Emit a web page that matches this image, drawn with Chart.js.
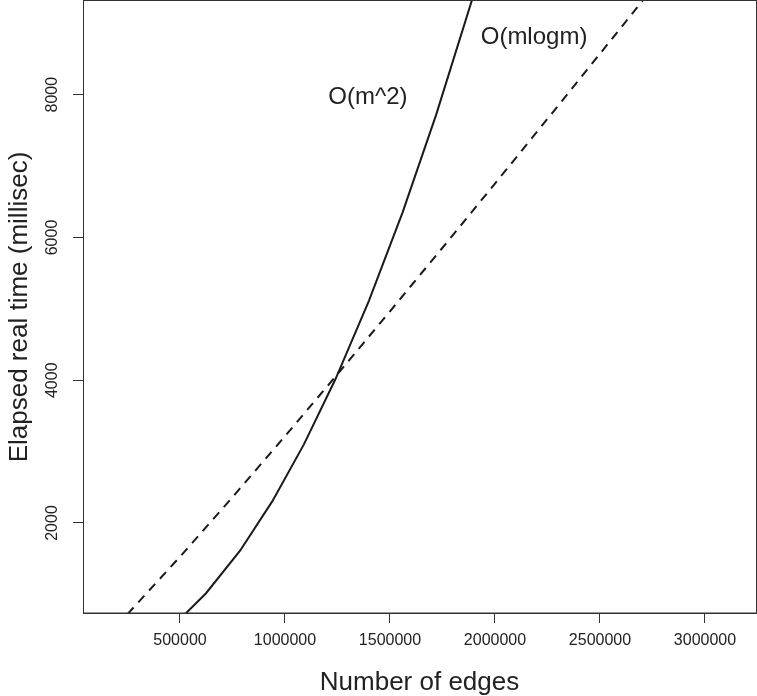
<!DOCTYPE html>
<html>
<head>
<meta charset="utf-8">
<script src="https://cdn.jsdelivr.net/npm/chart.js@4/dist/chart.umd.min.js"></script>
<style>
  html, body { margin: 0; padding: 0; background: #ffffff; }
  #wrap { width: 757px; height: 696px; }
</style>
</head>
<body>
<div id="wrap"><canvas id="c" width="757" height="696"></canvas></div>
<script>
// ---- data ----
const edgesSquare = [500000, 624000, 786000, 940000, 1090000, 1240000, 1400000, 1560000, 1720000, 1890000, 1950000];
const timeSquare  = [652, 1016, 1612, 2306, 3101, 4013, 5116, 6352, 7721, 9323, 9925];

const edgesMlogm = [250000, 500000, 750000, 1000000, 1250000, 1500000, 1750000, 2000000, 2250000, 2500000, 2750000];
const timeMlogm  = [723, 1527, 2362, 3216, 4085, 4966, 5856, 6755, 7662, 8574, 9492];

const xTicks = [500000, 1000000, 1500000, 2000000, 2500000, 3000000];
const yTicks = [2000, 4000, 6000, 8000];

const annotationTexts = ["O(m^2)", "O(mlogm)"];
const annotationX = [1395000, 2186000];
const annotationY = [7968, 8808];

const xTitle = "Number of edges";
const yTitle = "Elapsed real time (millisec)";

// ---- chart ----
const FONT = "'Liberation Sans', Arial, Helvetica, sans-serif";
const INK = '#1a1a1a';
const AXIS = '#333333';

const toPts = (xs, ys) => xs.map((x, i) => ({ x: x, y: ys[i] }));

const framePlugin = {
  id: 'frame',
  afterDraw(chart) {
    const { ctx, chartArea: a, scales } = chart;
    ctx.save();
    // box around the plot
    ctx.strokeStyle = AXIS;
    ctx.lineWidth = 1;
    ctx.strokeRect(Math.round(a.left) + 0.5, Math.round(a.top) - 0.5, Math.round(a.right - a.left), Math.round(a.bottom - a.top) + 0.5);
    // rotated y tick labels
    ctx.fillStyle = '#222';
    ctx.font = '16px ' + FONT;
    ctx.textAlign = 'center';
    ctx.textBaseline = 'middle';
    yTicks.forEach(v => {
      const py = scales.y.getPixelForValue(v);
      ctx.save();
      ctx.translate(53, py);
      ctx.rotate(-Math.PI / 2);
      ctx.fillText(String(v), 0, 0);
      ctx.restore();
    });
    // curve annotations
    ctx.font = '24px ' + FONT;
    ctx.fillStyle = '#222';
    annotationTexts.forEach((t, i) => {
      ctx.fillText(t, scales.x.getPixelForValue(annotationX[i]), scales.y.getPixelForValue(annotationY[i]));
    });
    ctx.restore();
  }
};

new Chart(document.getElementById('c'), {
  type: 'line',
  data: {
    datasets: [
      {
        label: 'O(m^2)',
        data: toPts(edgesSquare, timeSquare),
        borderColor: INK,
        borderWidth: 2,
        pointRadius: 0,
        tension: 0,
        fill: false
      },
      {
        label: 'O(mlogm)',
        data: toPts(edgesMlogm, timeMlogm),
        borderColor: INK,
        borderWidth: 2,
        borderDash: [9, 7],
        pointRadius: 0,
        tension: 0,
        fill: false
      }
    ]
  },
  options: {
    responsive: false,
    animation: false,
    devicePixelRatio: 1,
    layout: { padding: { top: 1, right: 1, left: 0, bottom: 0 } },
    plugins: { legend: { display: false }, tooltip: { enabled: false } },
    scales: {
      x: {
        type: 'linear',
        min: 38100,
        max: 3242900,
        afterBuildTicks: s => { s.ticks = xTicks.map(v => ({ value: v })); },
        afterFit: s => { s.height = 83; },
        grid: { drawOnChartArea: false, drawTicks: true, tickLength: 10, color: AXIS, lineWidth: 1 },
        border: { display: true, color: AXIS, width: 1 },
        ticks: {
          color: '#222',
          font: { family: FONT, size: 16 },
          padding: 8,
          maxRotation: 0,
          minRotation: 0,
          callback: v => String(v)
        },
        title: {
          display: true,
          text: xTitle,
          color: '#222',
          font: { family: FONT, size: 26, lineHeight: 1 },
          padding: { top: 0, bottom: 0 }
        }
      },
      y: {
        type: 'linear',
        min: 739,
        max: 9313,
        afterBuildTicks: s => { s.ticks = yTicks.map(v => ({ value: v })); },
        afterFit: s => { s.width = 83; },
        grid: { drawOnChartArea: false, drawTicks: true, tickLength: 10, color: AXIS, lineWidth: 1 },
        border: { display: true, color: AXIS, width: 1 },
        ticks: { display: false },
        title: {
          display: true,
          text: yTitle,
          color: '#222',
          font: { family: FONT, size: 26, lineHeight: 1 },
          padding: { top: 7, bottom: 0 }
        }
      }
    }
  },
  plugins: [framePlugin]
});
</script>
</body>
</html>
